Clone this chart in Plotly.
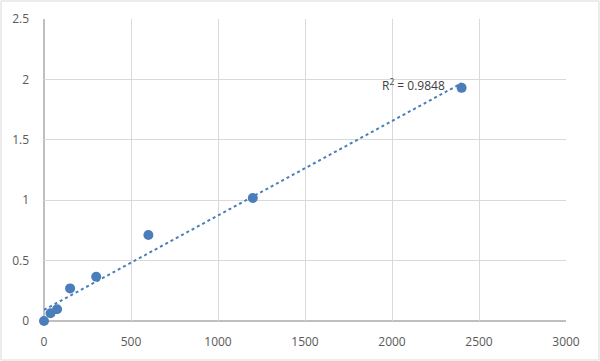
import numpy as np
import plotly.graph_objects as go

conc = [0, 37.5, 75, 150, 300, 600, 1200, 2400]
od = [0.0, 0.064, 0.097, 0.27, 0.367, 0.712, 1.018, 1.93]
x_ticks = [0, 500, 1000, 1500, 2000, 2500, 3000]
y_ticks = [0, 0.5, 1, 1.5, 2, 2.5]
r2_label = "R<sup>2</sup> = 0.9848"

blue = "#4a7ebb"
slope, intercept = np.polyfit(conc, od, 1)
tx = [min(conc), max(conc)]
ty = [slope * v + intercept for v in tx]

fig = go.Figure()
fig.add_trace(go.Scatter(x=tx, y=ty, mode="lines",
                         line=dict(color=blue, width=2, dash="dot"),
                         hoverinfo="skip", showlegend=False))
fig.add_trace(go.Scatter(x=conc, y=od, mode="markers",
                         marker=dict(color=blue, size=10),
                         cliponaxis=False, showlegend=False))

W, H = 600, 361
ml, mr, mt, mb = 44, 34, 19, 40
pw, ph = W - ml - mr, H - mt - mb

fig.update_layout(
    width=W, height=H,
    margin=dict(l=ml, r=mr, t=mt, b=mb, autoexpand=False),
    paper_bgcolor="white", plot_bgcolor="white",
    font=dict(family="Open Sans, Lato, sans-serif", size=12, color="#595959"),
    xaxis=dict(range=[0, 3000], tickvals=x_ticks, showgrid=True,
               gridcolor="#d9d9d9", gridwidth=1, zeroline=False,
               showline=False, ticks="", automargin=False,
               ticklabelstandoff=12,
               tickfont=dict(size=12, color="#595959")),
    yaxis=dict(range=[0, 2.5], tickvals=y_ticks, showgrid=True,
               gridcolor="#d9d9d9", gridwidth=1, zeroline=False,
               showline=False, ticks="", automargin=False,
               ticklabelstandoff=14,
               tickfont=dict(size=12, color="#595959")),
    shapes=[
        dict(type="line", xref="paper", yref="paper", x0=0, x1=1, y0=0, y1=0,
             line=dict(color="#bfbfbf", width=2), layer="below"),
        dict(type="line", xref="paper", yref="paper", x0=0, x1=0, y0=0, y1=1,
             line=dict(color="#bfbfbf", width=2), layer="below"),
        dict(type="rect", xref="paper", yref="paper",
             x0=(-ml + 1) / pw, x1=1 + (mr - 1) / pw,
             y0=(-mb + 1) / ph, y1=1 + (mt - 1) / ph,
             line=dict(color="#d9d9d9", width=1)),
    ],
    annotations=[dict(x=2316, y=1.95, xref="x", yref="y", text=r2_label,
                      showarrow=False, xanchor="right", yanchor="middle",
                      font=dict(size=12, color="#404040"))],
)

fig.write_html("out.html",
               config={"displayModeBar": False},
               post_script="document.body.style.margin='0';document.body.style.overflow='hidden';")
